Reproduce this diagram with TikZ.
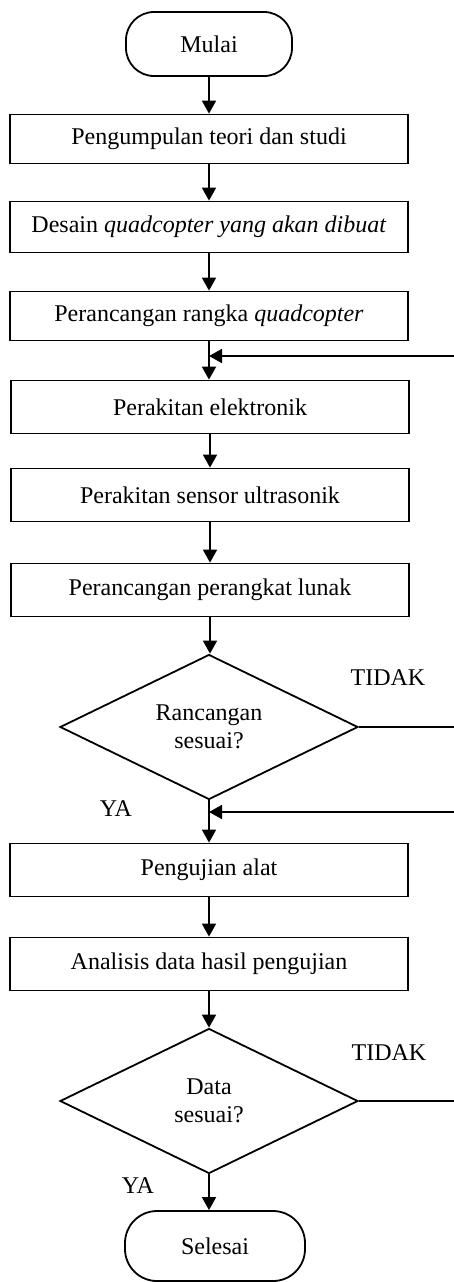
\documentclass[tikz,border=0pt]{standalone}
\usepackage{fontspec}
\setmainfont{Liberation Serif}
\usetikzlibrary{shapes.geometric,arrows.meta}
\tikzset{>={Triangle[length=6.5pt,width=7pt]}}
\tikzset{
  proses/.style={draw, line width=0.9pt, minimum width=199pt, minimum height=26.5pt, inner sep=2pt},
  terminal/.style={draw, line width=0.9pt, rounded corners=14pt, minimum width=83pt, minimum height=32pt},
  keputusan/.style={draw, line width=0.9pt, diamond, aspect=2, minimum width=149pt, minimum height=72.5pt, inner sep=1pt, align=center},
  garis/.style={line width=0.9pt}
}

\begin{document}
\begin{tikzpicture}[x=0.5pt, y=-0.5pt, font=\fontsize{12}{14}\selectfont]

\useasboundingbox (0,0) rectangle (454,1282);

\node[terminal] (mulai) at (209,44) {Mulai};
\node[proses, minimum height=24.5pt] (teori) at (209,139) {Pengumpulan teori dan studi};
\node[proses, minimum height=25.5pt] (desain) at (209,227) {Desain \textit{quadcopter yang akan dibuat}};
\node[proses, minimum height=24.5pt] (rangka) at (209,316) {Perancangan rangka \textit{quadcopter}};
\node[proses] (elektronik) at (210,407) {Perakitan elektronik};
\node[proses] (sensor) at (210,495) {Perakitan sensor ultrasonik};
\node[proses] (lunak) at (210,590) {Perancangan perangkat lunak};
\node[keputusan] (cek1) at (209,727) {Rancangan\\sesuai?};
\node[proses] (uji) at (209,870) {Pengujian alat};
\node[proses] (analisis) at (209,964) {Analisis data hasil pengujian};
\node[keputusan] (cek2) at (209,1101) {Data\\sesuai?};
\node[terminal, minimum width=90pt, minimum height=35pt, rounded corners=16pt] (selesai) at (215,1246) {Selesai};

\node (tidak1) at (388,678) {TIDAK};
\node (ya1) at (116,809) {YA};
\node (tidak2) at (389,1053) {TIDAK};
\node (ya2) at (138,1186) {YA};

\coordinate (kanan1) at (454,727);
\coordinate (kanan2) at (454,1101);
\coordinate (balik1) at (454,356);
\coordinate (masuk1) at (209,356);
\coordinate (balik2) at (454,812);
\coordinate (masuk2) at (209,812);

% alur utama
\draw[garis,->] (mulai) -- (teori);
\draw[garis,->] (teori) -- (desain);
\draw[garis,->] (desain) -- (rangka);
\draw[garis,->] (rangka.south) -- (rangka.south |- elektronik.north);
\draw[garis,->] (elektronik.south) -- (elektronik.south |- sensor.north);
\draw[garis,->] (sensor.south) -- (sensor.south |- lunak.north);
\draw[garis,->] (lunak.south) -- (lunak.south |- cek1.north);
\draw[garis,->] (cek1.south) -- (cek1.south |- uji.north);
\draw[garis,->] (uji) -- (analisis);
\draw[garis,->] (analisis) -- (cek2);
\draw[garis,->] (cek2.south) -- (cek2.south |- selesai.north);

% umpan balik
\draw[garis] (cek1.east) -- (kanan1);
\draw[garis] (cek2.east) -- (kanan2);
\draw[garis,->] (balik1) -- (masuk1);
\draw[garis,->] (balik2) -- (masuk2);

\end{tikzpicture}
\end{document}
